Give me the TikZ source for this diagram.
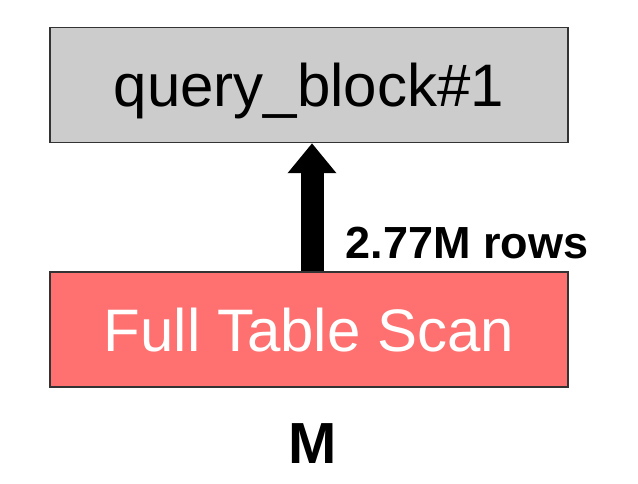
\documentclass[tikz,border=0pt]{standalone}
\usepackage{fontspec}
\setmainfont{Liberation Sans}
\usetikzlibrary{arrows.meta,positioning}

\definecolor{blockgray}{HTML}{CCCCCC}
\definecolor{scanred}{HTML}{FF7070}
\definecolor{edgegray}{HTML}{333333}

\begin{document}
\begin{tikzpicture}[x=1pt,y=1pt,
    opbox/.style={draw=edgegray,line width=1.5pt,inner sep=0pt,minimum width=518pt,minimum height=115pt,text height=44pt,text depth=0pt,font=\fontsize{60}{72}\selectfont}]
    \useasboundingbox (0,0) rectangle (638,483);

    \node[opbox,fill=blockgray] (query) at (309,398) {query\_block\#1};
    \node[opbox,fill=scanred,text=white,below=128pt of query] (scan) {Full Table Scan};

    % rows flowing up
    \draw[line width=23pt,-{Triangle[width=47pt,length=30pt]}] ([xshift=3pt]scan.north) -- ([xshift=3pt]query.south);
    \node[anchor=base west,font=\fontsize{45}{54}\selectfont\bfseries] (rows) at (342,225) {2.77M rows};

    % table label
    \node[anchor=base,font=\fontsize{58}{70}\selectfont\bfseries] (tabname) at (313,20) {M};
\end{tikzpicture}
\end{document}
